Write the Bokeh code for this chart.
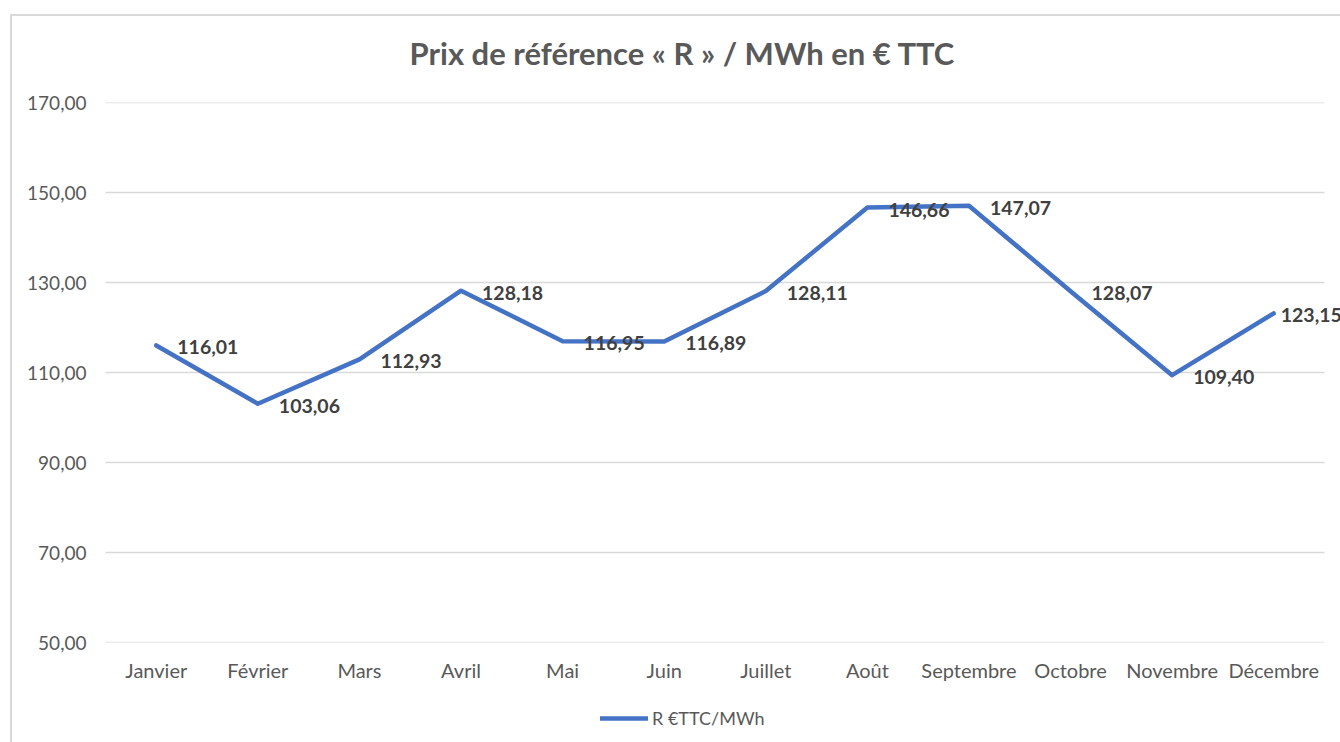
from bokeh.plotting import figure
from bokeh.layouts import column
from bokeh.models import (FactorRange, Range1d, FixedTicker, ColumnDataSource,
                          Legend, LegendItem, InlineStyleSheet)
from bokeh.core.properties import value
from bokeh.embed import file_html
from bokeh.resources import INLINE

# ---- data ----
months = ["Janvier", "Février", "Mars", "Avril", "Mai", "Juin", "Juillet",
          "Août", "Septembre", "Octobre", "Novembre", "Décembre"]
prices = [116.01, 103.06, 112.93, 128.18, 116.95, 116.89, 128.11,
          146.66, 147.07, 128.07, 109.40, 123.15]
y_ticks = [50, 70, 90, 110, 130, 150, 170]
title_text = "Prix de référence « R » / MWh en € TTC"
series_name = "R €TTC/MWh"

FONT = "Lato"
GRAY = "#595959"
BLUE = "#4472C4"
BORDER = "#d9d9d9"

labels = [f"{v:.2f}".replace(".", ",") for v in prices]
src = ColumnDataSource(dict(x=months, y=prices, lab=labels))
src_lab = ColumnDataSource(dict(x=months[:-1], y=prices[:-1], lab=labels[:-1]))
src_last = ColumnDataSource(dict(x=months[-1:], y=prices[-1:], lab=labels[-1:]))

PAD = 0.1575  # extra factor units on each side (lets labels run to the edge)
p = figure(width=1340, height=688, output_backend="svg", toolbar_location=None,
           x_range=FactorRange(*months, range_padding=PAD,
                               range_padding_units="absolute"),
           y_range=Range1d(50, 170),
           min_border_left=89, min_border_right=0,
           min_border_top=102, min_border_bottom=46)
p.outline_line_color = None
p.background_fill_color = "white"
p.border_fill_color = "white"
p.stylesheets = [InlineStyleSheet(css=f"""
:host {{ position: relative; }}
:host::after {{ content: ""; position: absolute; left: 10px; top: 14px;
  right: 0; bottom: 0; border-top: 2px solid {BORDER};
  border-left: 2px solid {BORDER}; pointer-events: none; z-index: 10; }}
""")]

# title
p.title.text = title_text
p.title.text_font = FONT
p.title.text_font_size = "31px"
p.title.text_font_style = "bold"
p.title.text_color = GRAY
p.title.align = "left"
p.title.offset = 320
p.title.standoff = 62

# axes
p.yaxis.ticker = FixedTicker(ticks=y_ticks)
p.yaxis.major_label_overrides = {t: f"{t:.2f}".replace(".", ",") for t in y_ticks}
for ax in (p.xaxis[0], p.yaxis[0]):
    ax.axis_line_color = None
    ax.major_tick_line_color = None
    ax.minor_tick_line_color = None
    ax.major_tick_out = 0
    ax.major_tick_in = 0
    ax.major_label_text_font = FONT
    ax.major_label_text_color = GRAY
p.yaxis.major_label_text_font_size = "19px"
p.xaxis.major_label_text_font_size = "20px"
p.yaxis.major_label_standoff = 3
p.xaxis.major_label_standoff = 15

# horizontal gridlines (from first to last category band)
p.xgrid.grid_line_color = None
p.ygrid.grid_line_color = None
n = len(y_ticks)
p.segment(x0=[(months[0], -0.5)] * n, x1=[(months[-1], 0.5)] * n,
          y0=y_ticks, y1=y_ticks, line_color=BORDER, line_width=1.5)

# series
line_style = dict(line_color=BLUE, line_width=4.5, line_join="round",
                  line_cap="round")
p.line("x", "y", source=src, **line_style)
lab_style = dict(text_font=value(FONT), text_font_style="bold",
                 text_font_size="19.5px", text_color="#404040",
                 text_baseline="middle", text_align="left", y_offset=2)
p.text("x", "y", text="lab", source=src_lab, x_offset=21, **lab_style)
p.text("x", "y", text="lab", source=src_last, x_offset=7, **lab_style)

# legend strip below the chart (same series; its view range keeps the line out of sight)
leg = figure(width=1340, height=54, output_backend="svg", toolbar_location=None,
             x_range=FactorRange(*months), y_range=Range1d(0, 1),
             x_axis_location=None, y_axis_location=None,
             min_border_left=0, min_border_right=0,
             min_border_top=0, min_border_bottom=0)
leg.outline_line_color = None
leg.xgrid.grid_line_color = None
leg.ygrid.grid_line_color = None
leg.stylesheets = [InlineStyleSheet(css=f"""
:host {{ position: relative; }}
:host::after {{ content: ""; position: absolute; left: 10px; top: 0;
  bottom: 0; width: 0; border-left: 2px solid {BORDER};
  pointer-events: none; z-index: 10; }}
""")]
r_leg = leg.line("x", "y", source=src, **line_style)
legend = Legend(items=[LegendItem(label=series_name, renderers=[r_leg])],
                location=(511, 13), orientation="horizontal",
                padding=0, margin=0, glyph_width=48, glyph_height=22,
                label_standoff=4, border_line_color=None,
                background_fill_alpha=0,
                label_text_font=FONT, label_text_font_size="18px",
                label_text_color=GRAY)
leg.add_layout(legend, "center")

layout = column(p, leg, spacing=0)
open("out.html", "w").write(file_html(layout, INLINE))
